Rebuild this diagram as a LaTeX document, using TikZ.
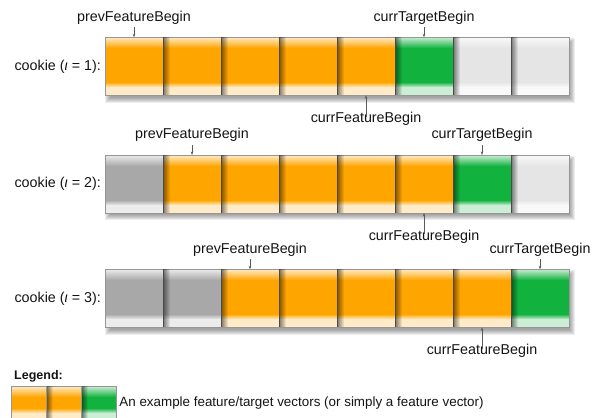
\documentclass[tikz,border=0pt]{standalone}
\usepackage{fontspec}
\setmainfont{Liberation Sans}
\usetikzlibrary{positioning,calc,fadings,arrows.meta}
\definecolor{cor}{RGB}{255,165,0}
\definecolor{cgr}{RGB}{18,178,62}
\definecolor{clg}{RGB}{229,229,229}
\definecolor{cdg}{RGB}{168,168,168}
\definecolor{edgec}{RGB}{150,150,150}
\definecolor{txt}{RGB}{20,20,20}
\definecolor{ptrc}{RGB}{90,90,90}
\tikzfading[name=shleft, left color=transparent!0, right color=transparent!100]
\begin{document}
\begin{tikzpicture}[x=1bp,y=-1bp,
  font=\fontsize{14.3bp}{17bp}\selectfont,
  cell/.style={draw=edgec, line width=0.7bp, fill=#1, minimum width=58bp, minimum height=58bp,
    inner sep=0pt, outer sep=0pt, anchor=north west,
    path picture={
      \foreach \k in {0,...,11}{
        \pgfmathtruncatemacro\pp{22+78*\k/11}
        \fill[#1!\pp!white] (path picture bounding box.north west) ++(0,\k) rectangle ++(60,1.3);
      }
      \foreach \k in {0,...,3}{
        \pgfmathtruncatemacro\pp{100-75*(\k+1)/5}
        \fill[#1!\pp!white] (path picture bounding box.south west) ++(0,-12+\k) rectangle ++(60,1.3);
      }
      \fill[#1!22!white] (path picture bounding box.south west) ++(0,-8) rectangle ++(60,8);
    }},
  lcell/.style={cell=#1, minimum width=35bp, minimum height=35bp},
  lbl/.style={inner sep=0pt, text=txt},
  ptr/.style={draw=ptrc, line width=0.6bp, -{Stealth[length=3.5bp,width=2.6bp]}},
  shd/.style={fill=black, opacity=0.07},
  lshadow/.style={fill=black, opacity=0.5, path fading=shleft}
]
\useasboundingbox (0,0) rectangle (602,417);

% ---------- row shadows ----------
\foreach \yt/\yb in {37.3/95.7, 155/213.3, 269.3/327.7}
  \foreach \r in {0,...,5}
    \fill[shd] ({105+3-3+\r},{\yt+4-3+\r}) rectangle ({569+3+3-\r},{\yb+4+3-\r});

% ---------- row 1 ----------
\foreach \c [count=\i] in {cor,cor,cor,cor,cor,cgr,clg,clg}
  \node[cell=\c] (a\i) at ({105+58*(\i-1)},37.3) {};
\foreach \i in {2,...,8}
  \fill[lshadow] (a\i.north west) rectangle ([xshift=7bp]a\i.south west);
\node[lbl, left=4bp of a1] (k1) {cookie ({\itshape ι} = 1):};
\node[lbl, above=13bp of a1] (p1) {prevFeatureBegin};
\draw[ptr] ([yshift=-3bp]p1.south) -- (a1.north);
\node[lbl, above=13bp of a6] (t1) {currTargetBegin};
\draw[ptr] ([yshift=-3bp]t1.south) -- (a6.north);
\node[lbl, below=16.6bp of a5] (f1) {currFeatureBegin};
\draw[ptr] ([yshift=-4.6bp]f1.north) -- (a5.south);

% ---------- row 2 ----------
\foreach \c [count=\i] in {cdg,cor,cor,cor,cor,cor,cgr,clg}
  \node[cell=\c] (b\i) at ({105+58*(\i-1)},155) {};
\foreach \i in {2,...,8}
  \fill[lshadow] (b\i.north west) rectangle ([xshift=7bp]b\i.south west);
\node[lbl, left=4bp of b1] (k2) {cookie ({\itshape ι} = 2):};
\node[lbl, above=13bp of b2] (p2) {prevFeatureBegin};
\draw[ptr] ([yshift=-3bp]p2.south) -- (b2.north);
\node[lbl, above=13bp of b7] (t2) {currTargetBegin};
\draw[ptr] ([yshift=-3bp]t2.south) -- (b7.north);
\node[lbl, below=16.6bp of b6] (f2) {currFeatureBegin};
\draw[ptr] ([yshift=-4.6bp]f2.north) -- (b6.south);

% ---------- row 3 ----------
\foreach \c [count=\i] in {cdg,cdg,cor,cor,cor,cor,cor,cgr}
  \node[cell=\c] (c\i) at ({105+58*(\i-1)},269.3) {};
\foreach \i in {2,...,8}
  \fill[lshadow] (c\i.north west) rectangle ([xshift=7bp]c\i.south west);
\node[lbl, left=4bp of c1] (k3) {cookie ({\itshape ι} = 3):};
\node[lbl, above=13bp of c3] (p3) {prevFeatureBegin};
\draw[ptr] ([yshift=-3bp]p3.south) -- (c3.north);
\node[lbl, above=13bp of c8] (t3) {currTargetBegin};
\draw[ptr] ([yshift=-3bp]t3.south) -- (c8.north);
\node[lbl, below=16.6bp of c7] (f3) {currFeatureBegin};
\draw[ptr] ([yshift=-4.6bp]f3.north) -- (c7.south);

% ---------- legend ----------
\node[lbl, anchor=west, font=\bfseries\fontsize{12.5bp}{15bp}\selectfont] (lg) at (14,376) {Legend:};
\foreach \c [count=\i] in {cor,cor,cgr}
  \node[lcell=\c] (l\i) at ({11.7+35*(\i-1)},386) {};
\foreach \i in {2,3}
  \fill[lshadow] (l\i.north west) rectangle ([xshift=6bp]l\i.south west);
\node[lbl, right=2.5bp of l3, font=\fontsize{13.4bp}{16bp}\selectfont] (lt) {An example feature/target vectors (or simply a feature vector)};
\end{tikzpicture}
\end{document}
